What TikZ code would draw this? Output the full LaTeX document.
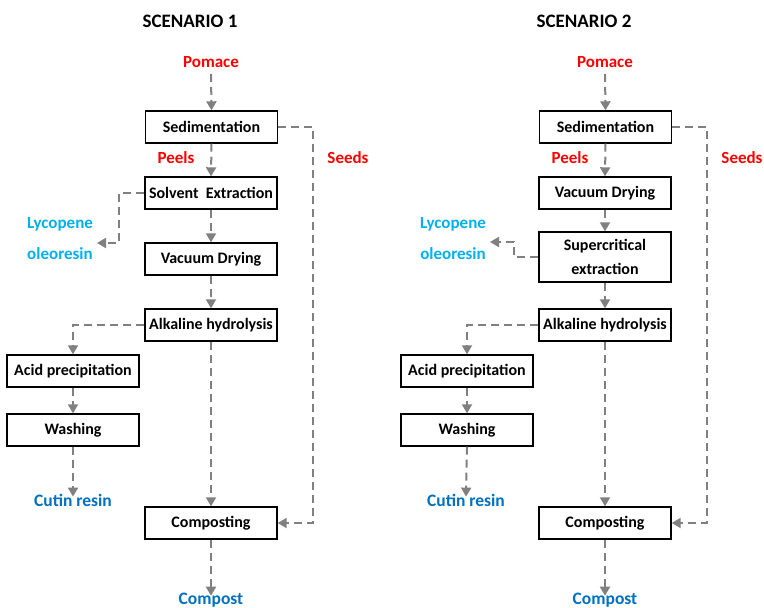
\documentclass[tikz,border=0pt]{standalone}
\usepackage{fontspec}
\setmainfont{Carlito}
\usetikzlibrary{arrows.meta}
\definecolor{flowgray}{RGB}{128,128,128}
\definecolor{redlbl}{RGB}{255,0,0}
\definecolor{lightblue}{RGB}{0,176,240}
\definecolor{darkblue}{RGB}{0,112,192}
\tikzset{
  box/.style={draw=black, line width=1.4pt, minimum width=132pt, minimum height=32pt, inner sep=0pt, font=\fontsize{16}{18}\selectfont\bfseries, align=center},
  flow/.style={draw=flowgray, line width=2pt, dash pattern=on 8pt off 5pt, -{Triangle[width=10pt,length=9pt]}, color=flowgray},
  redl/.style={text=redlbl, font=\fontsize{17}{19}\selectfont\bfseries, inner sep=1pt},
  lblue/.style={text=lightblue, font=\fontsize{17}{19}\selectfont\bfseries, inner sep=1pt, align=left},
  dblue/.style={text=darkblue, font=\fontsize{17.5}{19}\selectfont\bfseries, inner sep=1pt},
  title/.style={font=\fontsize{19}{21}\selectfont\bfseries}
}
\begin{document}
\begin{tikzpicture}[x=1pt,y=-1pt]
\useasboundingbox (0,0) rectangle (764,608);
% ---------- Scenario 1 ----------
\node[title] (t1) at (190,21) {SCENARIO 1};
\node[redl] (pom1) at (211,62) {Pomace};
\node[box] (sed1) at (211.5,127) {Sedimentation};
\node[redl] (peel1) at (176,158) {Peels};
\node[redl] (seed1) at (348,158) {Seeds};
\node[box] (solv1) at (211,193) {Solvent\ \ Extraction};
\node[box] (vac1) at (211,259) {Vacuum Drying};
\node[box] (alk1) at (211,325) {Alkaline hydrolysis};
\node[box] (acid1) at (73,371) {Acid precipitation};
\node[box] (wash1) at (73,430) {Washing};
\node[dblue] (cut1) at (73,500) {Cutin resin};
\node[box] (comp1) at (211,523) {Composting};
\node[dblue] (cpst1) at (211,600) {Compost};
\node[lblue] (lyc1) at (60,224) {Lycopene};
\node[lblue] (ole1) at (60,254) {oleoresin};
\coordinate (lyctip1) at (97,243);

\draw[flow] (pom1.south) ++(0,5) -- (sed1.north);
\draw[flow] (sed1.south) -- (solv1.north);
\draw[flow] (solv1.south) -- (vac1.north);
\draw[flow] (vac1.south) -- (alk1.north);
\draw[flow] (alk1.south) -- (comp1.north);
\draw[flow] (alk1.west) -| (acid1.north);
\draw[flow] (acid1.south) -- (wash1.north);
\draw[flow] (wash1.south) -- ([yshift=-4pt]cut1.north);
\draw[flow] (comp1.south) -- ([yshift=-4pt]cpst1.north);
\draw[flow] (solv1.west) -- ++(-25,0) |- (lyctip1);
\draw[flow] (sed1.east) -- ++(35,0) |- (comp1.east);

% ---------- Scenario 2 ----------
\node[title] (t2) at (584,21) {SCENARIO 2};
\node[redl] (pom2) at (605,62) {Pomace};
\node[box] (sed2) at (605.5,127) {Sedimentation};
\node[redl] (peel2) at (570,158) {Peels};
\node[redl] (seed2) at (742,158) {Seeds};
\node[box] (vac2) at (605,193) {Vacuum Drying};
\node[box, minimum height=50pt, font=\fontsize{16}{24}\selectfont\bfseries] (sup2) at (605,257) {Supercritical\\extraction};
\node[box] (alk2) at (605,325) {Alkaline hydrolysis};
\node[box] (acid2) at (467,371) {Acid precipitation};
\node[box] (wash2) at (467,430) {Washing};
\node[dblue] (cut2) at (466,500) {Cutin resin};
\node[box] (comp2) at (605,523) {Composting};
\node[dblue] (cpst2) at (605,600) {Compost};
\node[lblue] (lyc2) at (453,224) {Lycopene};
\node[lblue] (ole2) at (453,254) {oleoresin};
\coordinate (lyctip2) at (490,242);

\draw[flow] (pom2.south) ++(0,5) -- (sed2.north);
\draw[flow] (sed2.south) -- (vac2.north);
\draw[flow] (vac2.south) -- (sup2.north);
\draw[flow] (sup2.south) -- (alk2.north);
\draw[flow] (alk2.south) -- (comp2.north);
\draw[flow] (alk2.west) -| (acid2.north);
\draw[flow] (acid2.south) -- (wash2.north);
\draw[flow] (wash2.south) -- ([yshift=-4pt]cut2.north);
\draw[flow] (comp2.south) -- ([yshift=-4pt]cpst2.north);
\draw[flow] (sup2.west) -- ++(-24,0) |- (lyctip2);
\draw[flow] (sed2.east) -- ++(35,0) |- (comp2.east);
\end{tikzpicture}
\end{document}
